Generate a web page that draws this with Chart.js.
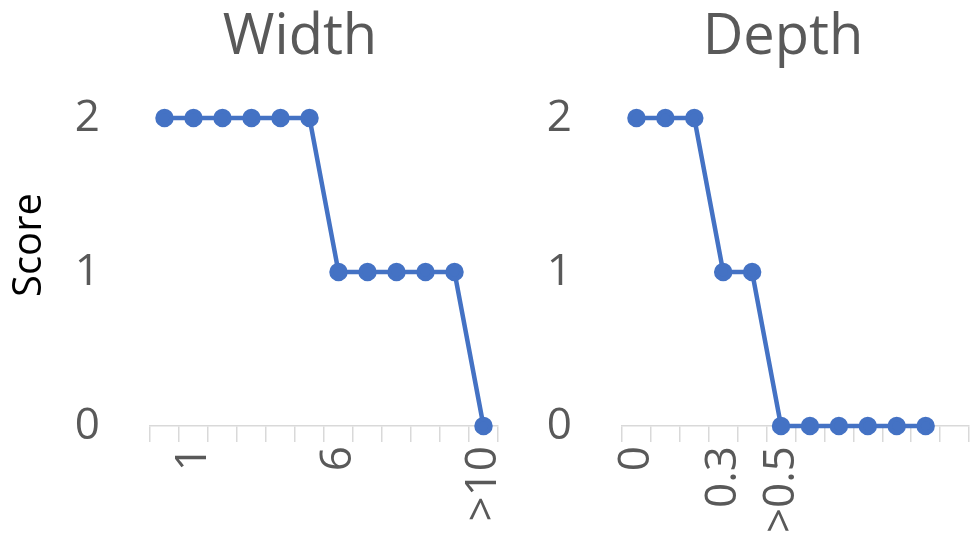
<!DOCTYPE html>
<html lang="en">
<head>
  <meta charset="UTF-8">
  <title>Width / Depth score</title>
  <script src="https://cdn.jsdelivr.net/npm/chart.js"></script>
  <style>
    body { margin: 0; background: #fff; overflow: hidden; }
    .panel { position: absolute; top: 0; }
    canvas { display: block; }
  </style>
</head>
<body>
  <div class="panel" style="left:0"><canvas id="widthChart" width="510" height="535"></canvas></div>
  <div class="panel" style="left:510px"><canvas id="depthChart" width="463" height="535"></canvas></div>

  <script>
    // data
    const widthLabels = ['', '1', '', '', '', '', '6', '', '', '', '', '>10'];
    const widthScores = [2, 2, 2, 2, 2, 2, 1, 1, 1, 1, 1, 0];

    const depthLabels = ['0', '', '', '0.3', '', '>0.5', '', '', '', '', '', ''];
    const depthScores = [2, 2, 2, 1, 1, 0, 0, 0, 0, 0, 0, null];

    const yTicks = [0, 1, 2];

    const textColor = '#595959';
    const axisColor = '#d9d9d9';
    const blue = '#4472C4';
    const fontFamily = '"Open Sans", "Noto Sans", sans-serif';

    // panel title + optional y title, placed like Excel does
    const panelText = {
      id: 'panelText',
      afterDraw(chart, args, opts) {
        const ctx = chart.ctx;
        ctx.save();
        ctx.fillStyle = textColor;
        ctx.textAlign = 'center';
        ctx.textBaseline = 'middle';
        ctx.font = '56px ' + fontFamily;
        ctx.fillText(opts.text, opts.x, 38);
        if (opts.yTitle) {
          ctx.translate(30, 245);
          ctx.rotate(-Math.PI / 2);
          ctx.fillStyle = '#000';
          ctx.font = '40px ' + fontFamily;
          ctx.fillText(opts.yTitle, 0, 0);
        }
        ctx.restore();
      }
    };

    function makeChart(id, labels, scores, title, titleX, yWidth, rightPad, yTitle) {
      const ctx = document.getElementById(id).getContext('2d');
      return new Chart(ctx, {
        type: 'line',
        data: {
          labels: labels,
          datasets: [{
            data: scores,
            borderColor: blue,
            backgroundColor: blue,
            borderWidth: 4.5,
            pointRadius: 7,
            pointHoverRadius: 7,
            tension: 0,
            clip: false
          }]
        },
        options: {
          responsive: false,
          animation: false,
          layout: {
            autoPadding: false,
            padding: { top: 118, right: rightPad, bottom: 0, left: 0 }
          },
          plugins: {
            legend: { display: false },
            tooltip: { enabled: false },
            panelText: { text: title, x: titleX, yTitle: yTitle }
          },
          scales: {
            x: {
              offset: true,
              grid: {
                offset: true,
                drawOnChartArea: false,
                tickLength: 16,
                color: axisColor,
                lineWidth: 1.5
              },
              border: { color: axisColor, width: 1.5 },
              ticks: {
                autoSkip: false,
                minRotation: 90,
                maxRotation: 90,
                padding: 4,
                color: textColor,
                font: { family: fontFamily, size: 44 }
              },
              afterFit(scale) {
                scale.height = 109;
                scale.paddingLeft = 0;
                scale.paddingRight = 0;
              }
            },
            y: {
              min: 0,
              max: 2,
              afterBuildTicks(scale) { scale.ticks = yTicks.map(v => ({ value: v })); },
              grid: { display: false, drawTicks: false },
              border: { display: false },
              ticks: {
                padding: 50,
                color: textColor,
                font: { family: fontFamily, size: 44 }
              },
              afterFit(scale) { scale.width = yWidth; }
            }
          }
        },
        plugins: [panelText]
      });
    }

    makeChart('widthChart', widthLabels, widthScores, 'Width', 300, 150, 12, 'Score');
    makeChart('depthChart', depthLabels, depthScores, 'Depth', 273, 112, 4, null);
  </script>
</body>
</html>
